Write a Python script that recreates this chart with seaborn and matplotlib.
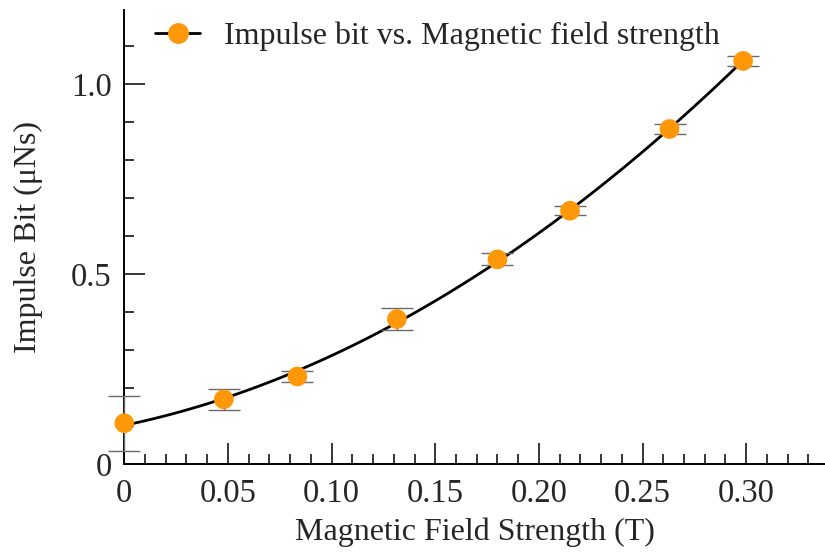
import matplotlib
matplotlib.use("Agg")
import matplotlib.pyplot as plt
from matplotlib.lines import Line2D
from matplotlib.ticker import MultipleLocator, FixedLocator
import seaborn as sns
import pandas as pd
import numpy as np

# Data
field_T = [0.0, 0.048, 0.0835, 0.1315, 0.180, 0.215, 0.263, 0.2985]
impulse_uNs = [0.108, 0.171, 0.231, 0.382, 0.539, 0.667, 0.882, 1.061]
impulse_err = [0.072, 0.028, 0.014, 0.030, 0.016, 0.012, 0.013, 0.014]
x_ticks = [0.0, 0.05, 0.10, 0.15, 0.20, 0.25, 0.30]
x_tick_labels = ["0", "0.05", "0.10", "0.15", "0.20", "0.25", "0.30"]
y_ticks = [0.0, 0.5, 1.0]
y_tick_labels = ["0", "0.5", "1.0"]
legend_label = "Impulse bit vs. Magnetic field strength"

df = pd.DataFrame({"B": field_T, "I": impulse_uNs, "err": impulse_err})

sns.set_style("ticks")
plt.rcParams["font.family"] = ["Liberation Serif", "DejaVu Serif"]

orange = "#FF9808"

fig = plt.figure(figsize=(8.25, 5.52), dpi=100)
ax = fig.add_axes([124.3 / 825, 1 - 464.3 / 552, 1 - 124.3 / 825, (464.3 - 10) / 552])

# quadratic fit curve
sns.regplot(data=df, x="B", y="I", order=2, ci=None, scatter=False, ax=ax,
            line_kws=dict(color="black", lw=2.0, zorder=2))

eb = ax.errorbar(df["B"], df["I"], yerr=df["err"], fmt="none", ecolor="#6a6a6a",
                 elinewidth=1.0, capsize=11.5, capthick=1.0, zorder=3)
for art in eb.lines[1]:
    art.set_clip_on(False)
for art in eb.lines[2]:
    art.set_clip_on(False)

sns.scatterplot(data=df, x="B", y="I", ax=ax, s=200, color=orange,
                edgecolor="none", linewidth=0, zorder=4, legend=False,
                clip_on=False)

ax.set_xlim(0, 0.338)
ax.set_ylim(0, 1.195)

ax.xaxis.set_major_locator(FixedLocator(x_ticks))
ax.set_xticklabels(x_tick_labels)
ax.xaxis.set_minor_locator(MultipleLocator(0.01))
ax.yaxis.set_major_locator(FixedLocator(y_ticks))
ax.set_yticklabels(y_tick_labels)
ax.yaxis.set_minor_locator(MultipleLocator(0.1))

ax.tick_params(which="major", direction="in", length=15, width=1.1,
               labelsize=23.5, color="black")
ax.tick_params(axis="x", which="major", pad=10)
ax.tick_params(axis="y", which="major", pad=9)
ax.tick_params(which="minor", direction="in", length=7.5, width=1.1, color="black")

for s in ["top", "right"]:
    ax.spines[s].set_visible(False)
for s in ["left", "bottom"]:
    ax.spines[s].set_linewidth(1.4)
    ax.spines[s].set_color("black")

ax.set_xlabel("Magnetic Field Strength (T)", fontsize=23, labelpad=6)
ax.set_ylabel("Impulse Bit (μNs)", fontsize=23, labelpad=20)

handle = Line2D([0], [0], color="black", lw=2.0, marker="o", markersize=14,
                markerfacecolor=orange, markeredgecolor=orange)
ax.legend([handle], [legend_label], loc="upper left", frameon=False,
          fontsize=23, bbox_to_anchor=(0.026, 1.002), handlelength=1.4,
          handletextpad=0.75, borderaxespad=0)

fig.savefig("out.png", dpi=100)
